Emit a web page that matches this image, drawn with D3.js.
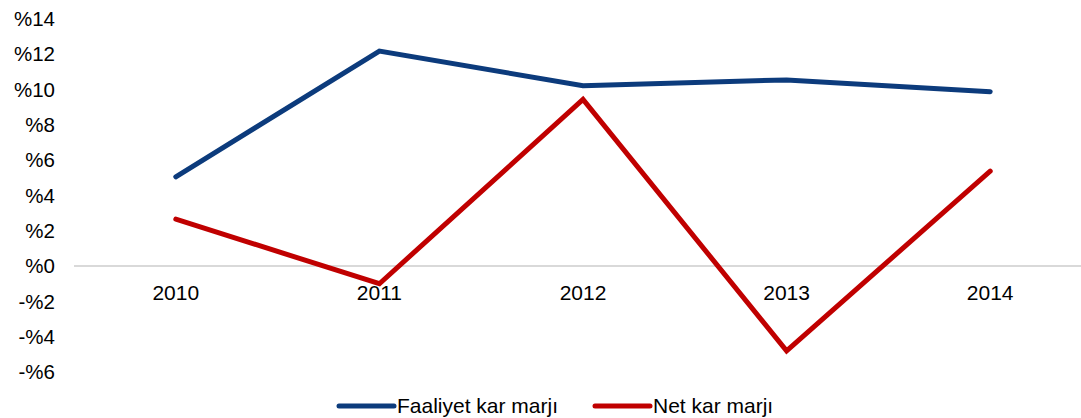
<!DOCTYPE html>
<html>
<head>
<meta charset="utf-8">
<script src="https://cdn.jsdelivr.net/npm/d3@7"></script>
<style>
  body { margin: 0; background: #fff; }
  svg text { font-family: 'Liberation Sans', Arial, sans-serif; fill: #000; }
</style>
</head>
<body>
<div id="chart"></div>
<script>
// Data
const years = ['2010', '2011', '2012', '2013', '2014']
const faaliyet = [5.06, 12.18, 10.22, 10.55, 9.88] // Faaliyet kar marjı
const netKar = [2.66, -1.0, 9.44, -4.8, 5.38] // Net kar marjı
const yTicks = [-6, -4, -2, 0, 2, 4, 6, 8, 10, 12, 14]
const seriesNames = ['Faaliyet kar marjı', 'Net kar marjı']
const seriesColors = ['#0c3b7c', '#c00000']

const width = 1081,
  height = 418

const svg = d3
  .select('#chart')
  .append('svg')
  .attr('width', width)
  .attr('height', height)

const x = d3.scaleBand().domain(years).range([74, 1092])
const y = d3.scaleLinear().domain([-6, 14]).range([372, 19])

// Zero line
svg
  .append('line')
  .attr('x1', 74)
  .attr('x2', width)
  .attr('y1', y(0))
  .attr('y2', y(0))
  .attr('stroke', '#d9d9d9')
  .attr('stroke-width', 2)

// Y labels (no axis line)
svg
  .selectAll('.ylab')
  .data(yTicks)
  .enter()
  .append('text')
  .attr('class', 'ylab')
  .attr('x', 55)
  .attr('y', (d) => y(d))
  .attr('dy', '0.35em')
  .attr('text-anchor', 'end')
  .style('font-size', '20.5px')
  .text((d) => (d < 0 ? '-%' + Math.abs(d) : '%' + d))

// X labels below the zero line
svg
  .selectAll('.xlab')
  .data(years)
  .enter()
  .append('text')
  .attr('class', 'xlab')
  .attr('x', (d) => x(d) + x.bandwidth() / 2)
  .attr('y', y(0) + 34)
  .attr('text-anchor', 'middle')
  .style('font-size', '21px')
  .text((d) => d)

const line = d3
  .line()
  .x((d, i) => x(years[i]) + x.bandwidth() / 2)
  .y((d) => y(d))

;[faaliyet, netKar].forEach((vals, i) => {
  svg
    .append('path')
    .datum(vals)
    .attr('d', line)
    .attr('fill', 'none')
    .attr('stroke', seriesColors[i])
    .attr('stroke-width', 5)
    .attr('stroke-linecap', 'round')
    .attr('stroke-linejoin', 'miter')
})

// Legend
const legendX = [339, 595]
seriesNames.forEach((name, i) => {
  const g = svg.append('g').attr('transform', `translate(${legendX[i]}, 406)`)
  g.append('line')
    .attr('x1', 0)
    .attr('x2', 55)
    .attr('stroke', seriesColors[i])
    .attr('stroke-width', 5)
    .attr('stroke-linecap', 'round')
  g.append('text')
    .attr('x', 58)
    .attr('dy', '0.35em')
    .style('font-size', '21px')
    .text(name)
})
</script>
</body>
</html>
